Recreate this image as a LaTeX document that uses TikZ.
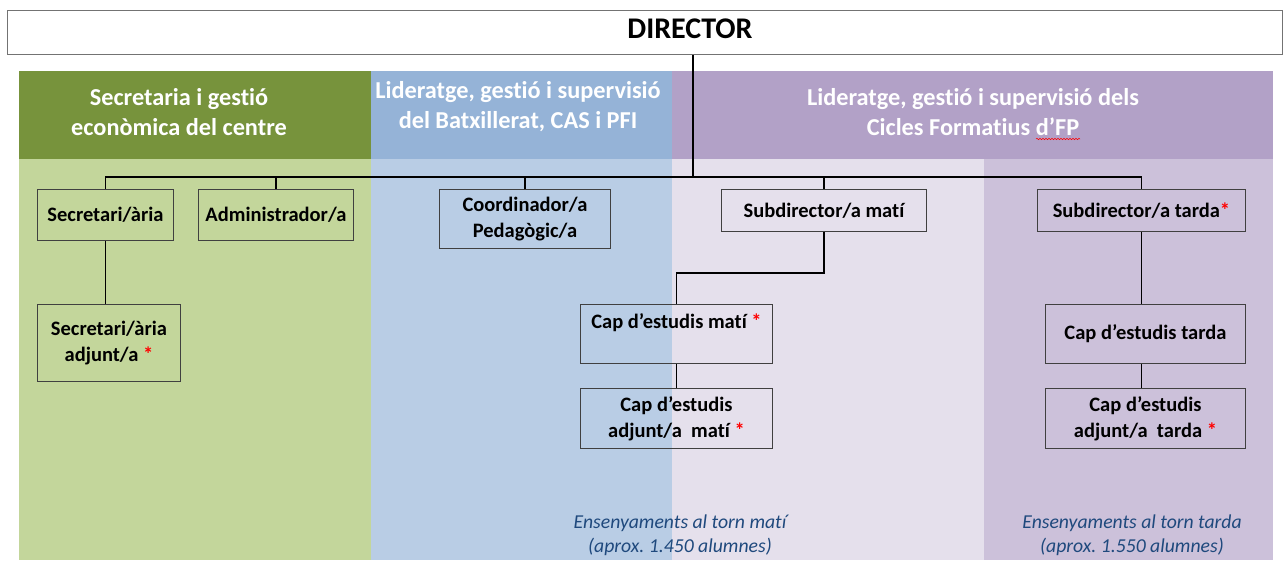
\documentclass[tikz,border=0pt]{standalone}
\usepackage{fontspec}
\setmainfont{Carlito}[Ligatures=NoCommon]
\usetikzlibrary{positioning, calc, decorations.pathmorphing}

\definecolor{verdfosc}{HTML}{77933C}
\definecolor{verdclar}{HTML}{C3D69B}
\definecolor{blaufosc}{HTML}{95B3D7}
\definecolor{blauclar}{HTML}{B9CDE5}
\definecolor{lilafosc}{HTML}{B2A1C7}
\definecolor{lilaclar}{HTML}{E5E0EC}
\definecolor{lilamig}{HTML}{CCC1DA}
\definecolor{textblau}{HTML}{1F497D}
\newcommand{\estrella}{\textcolor{red}{*}}
\frenchspacing

\begin{document}
\begin{tikzpicture}[
            x=1pt, y=-1pt,
            caixa/.style={draw=black!75, line width=0.9pt, inner sep=0pt, align=center,
                anchor=north west, font=\bfseries\fontsize{20.5}{26}\selectfont},
            capcal/.style={text=white, align=center, font=\bfseries\fontsize{24.3}{30}\selectfont},
            nota/.style={text=textblau, align=center, font=\itshape\fontsize{19.7}{24}\selectfont},
            linia/.style={draw=black, line width=1.6pt}
            ]
        \useasboundingbox (0,0) rectangle (1283,560);

        % Franges de fons
        \fill[verdfosc] (19,71) rectangle (371,159);
        \fill[verdclar] (19,159) rectangle (371,560);
        \fill[blaufosc] (371,71) rectangle (672,159);
        \fill[blauclar] (371,159) rectangle (672,560);
        \fill[lilafosc] (672,71) rectangle (1273,159);
        \fill[lilaclar] (672,159) rectangle (984,560);
        \fill[lilamig] (984,159) rectangle (1273,560);

        \node[capcal] (h1) at (179,112) {Secretaria i gestió\\econòmica del centre};
        \node[capcal] (h2) at (518,107) {Lideratge, gestió i supervisió\\del Batxillerat, CAS i PFI};
        \node[capcal] (h3) at (973,112) {Lideratge, gestió i supervisió dels\\Cicles Formatius d’FP};
        \draw[red, line width=0.5pt, decorate, decoration={snake, amplitude=0.7pt, segment length=3pt}]
            (1036,139) -- (1080,139);

        \node[draw=black!55, line width=0.9pt, inner sep=0pt, anchor=north west,
            minimum width=1275, minimum height=44] (dir) at (7,10) {};
        \node[font=\bfseries\fontsize{30}{32}\selectfont] (dirt) at (690,29) {DIRECTOR};

        \node[caixa, minimum width=136, minimum height=51] (sec) at (37,189) {Secretari/ària};
        \node[caixa, minimum width=155, minimum height=51] (adm) at (198,189) {Administrador/a};
        \node[caixa, minimum width=171, minimum height=59] (coo) at (439,189) {Coordinador/a\\Pedagògic/a};
        \node[caixa, minimum width=205, minimum height=42] (sdm) at (721,189) {Subdirector/a matí};
        \node[caixa, minimum width=208, minimum height=42] (sdt) at (1037,189) {Subdirector/a tarda\estrella};
        \node[caixa, minimum width=143, minimum height=77] (sad) at (37,304) {Secretari/ària\\adjunt/a \estrella};
        \node[caixa, minimum width=192, minimum height=59] (cem) at (580,304) {Cap d’estudis matí \estrella\\~};
        \node[caixa, minimum width=192, minimum height=60] (cam) at (580,388) {Cap d’estudis\\adjunt/a~~matí \estrella};
        \node[caixa, minimum width=200, minimum height=59] (cet) at (1045,304) {Cap d’estudis tarda};
        \node[caixa, minimum width=200, minimum height=60] (cat) at (1045,388) {Cap d’estudis\\adjunt/a~~tarda \estrella};

        % Connexions
        \coordinate (bus) at (693,177);
        \draw[linia] (dir.south -| bus) -- (bus);
        \draw[linia] (sec.north) |- (bus) -| (sdt.north);
        \draw[linia] (adm.north) -- (adm.north |- bus);
        \draw[linia] (coo.north) -- (coo.north |- bus);
        \draw[linia] (sdm.north) -- (sdm.north |- bus);
        \draw[linia] (sec.south) -- (sec.south |- sad.north);
        \draw[linia] (sdm.south) -- ++(0,41) -| (cem.north);
        \draw[linia] (cem.south) -- (cam.north);
        \draw[linia] (sdt.south) -- (sdt.south |- cet.north);
        \draw[linia] (cet.south -| sdt.south) -- (sdt.south |- cat.north);

        \node[nota] (n1) at (680,535) {Ensenyaments al torn matí\\(aprox. 1.450 alumnes)};
        \node[nota] (n2) at (1132,535) {Ensenyaments al torn tarda\\(aprox. 1.550 alumnes)};
        \end{tikzpicture}
\end{document}
